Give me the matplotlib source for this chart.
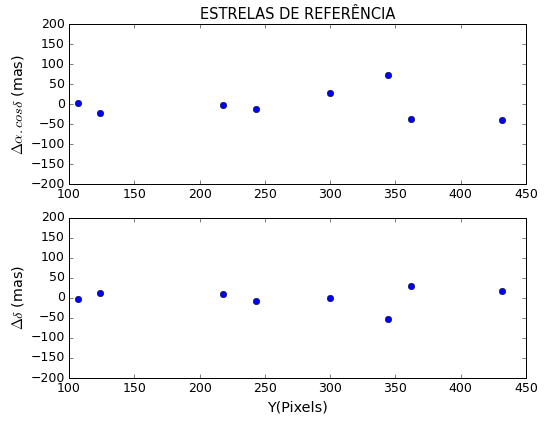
import numpy as np
import matplotlib
matplotlib.use('Agg')
import matplotlib.pyplot as plt

plt.style.use('classic')

# posicoes Y (pixels) das estrelas de referencia
y_pix = [107, 124, 218, 243, 300, 344, 362, 432]
# residuos em ascensao reta (mas)
d_alfa = [2, -23, -1, -13, 29, 74, -38, -40]
# residuos em declinacao (mas)
d_delta = [-4, 12, 9, -9, -1, -54, 30, 17]

plt.rcParams['xtick.labelsize'] = 12.5
plt.rcParams['ytick.labelsize'] = 12.5

fig = plt.figure(figsize=(549 / 72, 422 / 72), dpi=72)
fig.subplots_adjust(left=69 / 549, right=526 / 549, top=1 - 24 / 422,
                    bottom=1 - 378 / 422, hspace=33 / 160)

ax1 = fig.add_subplot(211)
ax1.plot(y_pix, d_alfa, 'bo', markersize=6.5)
ax1.set_xlim(100, 450)
ax1.set_ylim(-200, 200)
ax1.set_title('ESTRELAS DE REFERÊNCIA', fontsize=14.6)
ax1.set_ylabel(r'$\Delta\alpha.cos\delta$ (mas)', fontsize=14.4)

ax2 = fig.add_subplot(212)
ax2.plot(y_pix, d_delta, 'bo', markersize=6.5)
ax2.set_xlim(100, 450)
ax2.set_ylim(-200, 200)
ax2.set_ylabel(r'$\Delta\delta$ (mas)', fontsize=14.4)
ax2.set_xlabel('Y(Pixels)', fontsize=14.4)

fig.savefig('out.png', dpi=72)
